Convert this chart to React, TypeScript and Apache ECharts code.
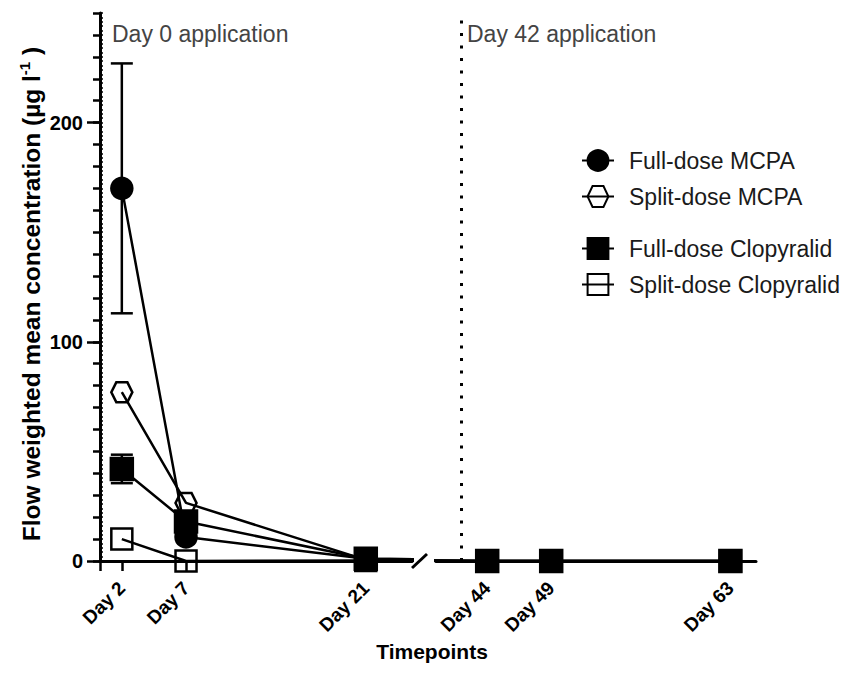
import React, { useEffect, useRef } from "react";
import * as echarts from "echarts";

// Sampling days and flow-weighted mean concentrations (µg l-1)
const days = [2, 7, 21, 44, 49, 63];
const fullDoseMcpa = [170, 11, 1, 0, 0, 0];
const fullDoseMcpaSd = [57, 0, 0, 0, 0, 0];
const splitDoseMcpa = [77, 26.5, 0.5, 0, 0, 0];
const fullDoseClopyralid = [42, 18, 1, 0, 0, 0];
const fullDoseClopyralidSd = [6.5, 0, 0, 0, 0, 0];
const splitDoseClopyralid = [10, 0, 0.2, 0, 0, 0];

// Axis definitions
const firstPeriodRange = [0.3, 24.6];
const secondPeriodRange = [40, 65];
const firstPeriodTicks = [2, 7, 21];
const secondPeriodTicks = [44, 49, 63];
const yRange = [0, 250];
const yLabelTicks = [0, 100, 200];
const secondApplicationDay = 42;

const FONT = 'Arial, "Liberation Sans", Helvetica, sans-serif';
const HEXAGON = "path://M0,10 L5,0 L16,0 L21,10 L16,20 L5,20 Z";

const groups = [
  { name: "Full-dose MCPA", values: fullDoseMcpa, sd: fullDoseMcpaSd, symbol: "circle", size: 21, fill: "#000" },
  { name: "Full-dose Clopyralid", values: fullDoseClopyralid, sd: fullDoseClopyralidSd, symbol: "rect", size: 22, fill: "#000" },
  { name: "Split-dose MCPA", values: splitDoseMcpa, sd: null, symbol: HEXAGON, size: [21, 20], fill: "rgba(0,0,0,0)" },
  { name: "Split-dose Clopyralid", values: splitDoseClopyralid, sd: null, symbol: "rect", size: 21, fill: "rgba(0,0,0,0)" },
];

function buildOption() {
  const grids = [
    { left: 100, top: 13, width: 312, height: 548 },
    { left: 436, top: 13, width: 320, height: 548 },
  ];

  const xLabel = {
    fontFamily: FONT,
    fontWeight: "bold" as const,
    fontSize: 19,
    color: "#000",
    rotate: 45,
    margin: 24,
    formatter: "Day {value}",
  };

  const xAxes = [
    {
      gridIndex: 0,
      type: "value",
      min: firstPeriodRange[0],
      max: firstPeriodRange[1],
      splitLine: { show: false },
      axisLine: { lineStyle: { color: "#000", width: 3 } },
      axisTick: { customValues: [firstPeriodRange[0], ...firstPeriodTicks], length: 10, lineStyle: { color: "#000", width: 2.5 } },
      axisLabel: { ...xLabel, customValues: firstPeriodTicks },
    },
    {
      gridIndex: 1,
      type: "value",
      min: secondPeriodRange[0],
      max: secondPeriodRange[1],
      splitLine: { show: false },
      axisLine: { lineStyle: { color: "#000", width: 3 } },
      axisTick: { customValues: secondPeriodTicks, length: 10, lineStyle: { color: "#000", width: 2.5 } },
      axisLabel: { ...xLabel, customValues: secondPeriodTicks },
    },
  ];

  const yBase = {
    gridIndex: 0,
    type: "value",
    position: "left",
    offset: 0,
    min: yRange[0],
    max: yRange[1],
    splitLine: { show: false },
  };
  const yAxes = [
    {
      ...yBase,
      name: "Flow weighted mean concentration (µg l{sup|-1} )",
      nameLocation: "middle",
      nameGap: 55,
      nameRotate: 90,
      nameTextStyle: {
        fontFamily: FONT,
        fontWeight: "bold",
        fontSize: 24.5,
        color: "#000",
        lineHeight: 28,
        padding: [0, 14, 0, 0],
        rich: {
          sup: { fontFamily: FONT, fontWeight: "bold", fontSize: 15, verticalAlign: "top", lineHeight: 28, color: "#000" },
        },
      },
      axisLine: { show: true, lineStyle: { color: "#000", width: 3 } },
      axisTick: { customValues: yLabelTicks, length: 13, lineStyle: { color: "#000", width: 2.5 } },
      axisLabel: { customValues: yLabelTicks, margin: 17, fontFamily: FONT, fontWeight: "bold", fontSize: 20, color: "#000" },
    },
    {
      ...yBase,
      interval: 10,
      axisLine: { show: false },
      axisTick: { length: 7, lineStyle: { color: "#000", width: 2.5 } },
      axisLabel: { show: false },
    },
    {
      ...yBase,
      interval: 2,
      axisLine: { show: false },
      axisTick: { inside: true, length: 3, lineStyle: { color: "#000", width: 1.5 } },
      axisLabel: { show: false },
    },
    { ...yBase, gridIndex: 1, show: false },
  ];

  const series: any[] = [];

  // Error bars (mean ± SD) for the first period
  const errorData: number[][] = [];
  groups.forEach((g) => {
    if (!g.sd) return;
    days.forEach((d, i) => {
      if (g.sd![i] > 0) errorData.push([d, g.values[i] - g.sd![i], g.values[i] + g.sd![i]]);
    });
  });
  series.push({
    type: "custom",
    xAxisIndex: 0,
    yAxisIndex: 0,
    z: 1,
    silent: true,
    encode: { x: 0, y: [1, 2] },
    data: errorData,
    renderItem: (_params: any, api: any) => {
      const x = api.value(0);
      const lo = api.coord([x, api.value(1)]);
      const hi = api.coord([x, api.value(2)]);
      const half = 11;
      const style = { stroke: "#000", lineWidth: 2.5 };
      return {
        type: "group",
        children: [
          { type: "line", shape: { x1: hi[0], y1: hi[1], x2: lo[0], y2: lo[1] }, style },
          { type: "line", shape: { x1: hi[0] - half, y1: hi[1], x2: hi[0] + half, y2: hi[1] }, style },
          { type: "line", shape: { x1: lo[0] - half, y1: lo[1], x2: lo[0] + half, y2: lo[1] }, style },
        ],
      };
    },
  });

  [0, 1].forEach((gi) => {
    groups.forEach((g, k) => {
      series.push({
        type: "line",
        name: g.name,
        xAxisIndex: gi,
        yAxisIndex: gi === 0 ? 0 : 3,
        z: 2 + k,
        clip: true,
        symbol: g.symbol,
        symbolSize: g.size,
        showAllSymbol: true,
        data: days.map((d, i) => [d, g.values[i]]),
        itemStyle: { color: g.fill, borderColor: "#000", borderWidth: 2.5 },
        lineStyle: { color: "#000", width: 2.5 },
        emphasis: { disabled: true },
        markLine:
          gi === 1 && k === 0
            ? {
                silent: true,
                symbol: "none",
                label: { show: false },
                lineStyle: { color: "#000", width: 3, type: [3, 9.5] },
                data: [{ xAxis: secondApplicationDay }],
              }
            : undefined,
      });
    });
  });

  const legendBase = {
    orient: "vertical",
    left: 576,
    itemWidth: 32,
    itemHeight: 26,
    itemGap: 13,
    selectedMode: false,
    textStyle: { fontFamily: FONT, fontSize: 23, color: "#1a1a1a", padding: [0, 0, 0, 10] },
  };

  return {
    animation: false,
    backgroundColor: "#fff",
    grid: grids.map((g) => ({ ...g, containLabel: false })),
    xAxis: xAxes,
    yAxis: yAxes,
    legend: [
      { ...legendBase, top: 144, data: ["Full-dose MCPA", "Split-dose MCPA"] },
      { ...legendBase, top: 232, data: ["Full-dose Clopyralid", "Split-dose Clopyralid"] },
    ],
    graphic: [
      {
        type: "text",
        x: 112,
        y: 22,
        style: { text: "Day 0 application", fontFamily: FONT, fontSize: 23, fill: "#444", textVerticalAlign: "top" },
      },
      {
        type: "text",
        x: 467,
        y: 22,
        style: { text: "Day 42 application", fontFamily: FONT, fontSize: 23, fill: "#444", textVerticalAlign: "top" },
      },
      {
        type: "text",
        x: 432,
        y: 651,
        style: {
          text: "Timepoints",
          fontFamily: FONT,
          fontWeight: "bold",
          fontSize: 21,
          fill: "#000",
          textAlign: "center",
          textVerticalAlign: "middle",
        },
      },
      // axis break mark
      { type: "line", shape: { x1: 412, y1: 568, x2: 427, y2: 554 }, style: { stroke: "#000", lineWidth: 3 } },
    ],
    series,
  };
}

export default function App() {
  const ref = useRef<HTMLDivElement>(null);
  useEffect(() => {
    if (!ref.current) return;
    const chart = echarts.init(ref.current, null, { renderer: "svg" });
    chart.setOption(buildOption() as any);
    return () => chart.dispose();
  }, []);
  return (
    <div
      ref={ref}
      style={{ position: "fixed", left: 0, top: 0, width: 843, height: 686, background: "#fff" }}
    />
  );
}
